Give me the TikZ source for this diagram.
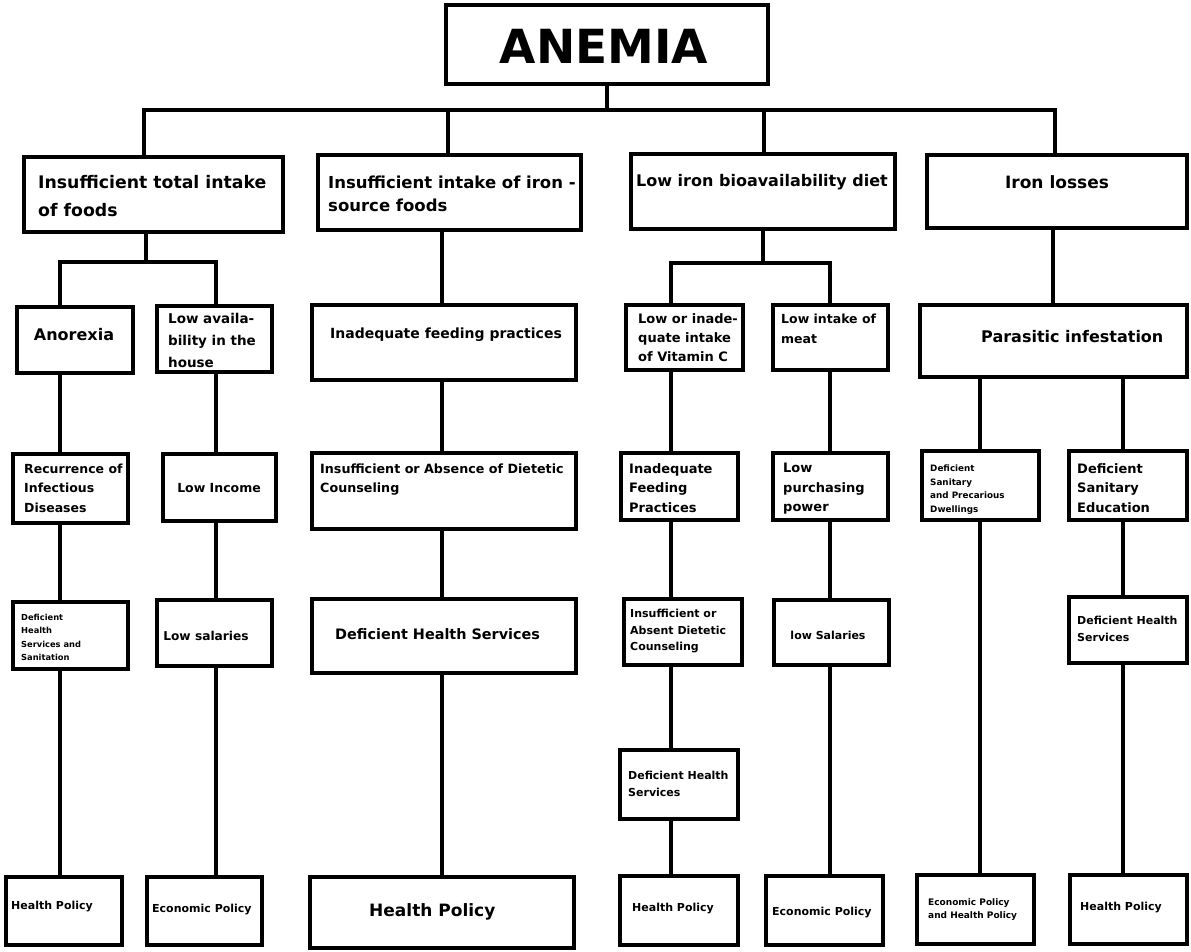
\documentclass[tikz,border=0pt]{standalone}
\usepackage{fontspec}
\setmainfont{DejaVu Sans}
\usetikzlibrary{fit}
\newcommand\fs[2]{\fontsize{#1}{#2}\selectfont\bfseries}
\tikzset{
 box/.style={draw, line width=4.5pt, inner sep=0pt},
 t/.style={inner sep=0pt, align=left, text=black},
 ln/.style={line width=4.5pt},
}
\newcommand\bx[5]{\node[box, fit={(#2,#3) (#4,#5)}] (#1) {};}
\begin{document}
\begin{tikzpicture}[x=1pt,y=-1pt]
\useasboundingbox (0,0) rectangle (1191,951);
% ---- boxes
\bx{A}{446}{5}{768}{84}
\bx{L1a}{24}{157}{283}{232}
\bx{L1b}{318}{155}{581}{230}
\bx{L1c}{631}{154}{895}{229}
\bx{L1d}{927}{155}{1187}{228}
\bx{an}{17}{307}{133}{373}
\bx{la}{157}{306}{272}{372}
\bx{ifp}{312}{305}{576}{380}
\bx{vc}{626}{305}{743}{370}
\bx{mt}{773}{305}{888}{370}
\bx{pi}{920}{305}{1187}{377}
\bx{rc}{13}{454}{128}{523}
\bx{li}{163}{454}{276}{521}
\bx{ia}{312}{453}{576}{529}
\bx{if2}{621}{453}{738}{520}
\bx{pp}{773}{453}{888}{520}
\bx{sd}{922}{451}{1039}{520}
\bx{se}{1069}{451}{1187}{520}
\bx{hs}{13}{602}{128}{669}
\bx{ls}{157}{600}{272}{666}
\bx{dhs}{312}{599}{576}{673}
\bx{iad}{624}{599}{742}{665}
\bx{lsal}{774}{600}{889}{665}
\bx{dhs2}{1069}{597}{1187}{663}
\bx{dhs3}{620}{750}{738}{819}
\bx{hp1}{6}{877}{122}{945}
\bx{ep1}{147}{877}{262}{945}
\bx{hp2}{310}{877}{574}{948}
\bx{hp3}{620}{876}{738}{945}
\bx{ep2}{766}{876}{883}{945}
\bx{ep3}{917}{875}{1034}{944}
\bx{hp4}{1070}{875}{1187}{944}
% ---- texts
\node[t, font=\fs{47}{55}] (A-t) at (604,46) {ANEMIA};
\node[t, font=\fs{17.3}{28}, anchor=north west] (L1a-t) at (38,175.6) {Insufficient total intake\\of foods};
\node[t, font=\fs{16.5}{23}, anchor=north west] (L1b-t) at (328,175.9) {Insufficient intake of iron -\\source foods};
\node[t, font=\fs{16}{23}, anchor=west] (L1c-t) at (636,182) {Low iron bioavailability diet};
\node[t, font=\fs{17}{23}] (L1d-t) at (1057,182) {Iron losses};
\node[t, font=\fs{16}{23}] (an-t) at (74,335) {Anorexia};
\node[t, font=\fs{13.5}{22}, anchor=north west] (la-t) at (168,313) {Low availa-\\bility in the\\house};
\node[t, font=\fs{14}{20}] (ifp-t) at (446,335) {Inadequate feeding practices};
\node[t, font=\fs{13}{19}, anchor=north west] (vc-t) at (638,313.2) {Low or inade-\\quate intake\\of Vitamin C};
\node[t, font=\fs{12.5}{20}, anchor=north west] (mt-t) at (781,313.4) {Low intake of\\meat};
\node[t, font=\fs{16}{20}, anchor=west] (pi-t) at (981,337) {Parasitic infestation};
\node[t, font=\fs{12.5}{19.5}, anchor=north west] (rc-t) at (24,463.4) {Recurrence of\\Infectious\\Diseases};
\node[t, font=\fs{12.5}{19}] (li-t) at (219,488) {Low Income};
\node[t, font=\fs{12.7}{19}, anchor=north west] (ia-t) at (320,463.3) {Insufficient or Absence of Dietetic\\Counseling};
\node[t, font=\fs{13}{19.5}, anchor=north west] (if2-t) at (629,463.2) {Inadequate\\Feeding\\Practices};
\node[t, font=\fs{13}{19.5}, anchor=north west] (pp-t) at (783,463.2) {Low\\purchasing\\power};
\node[t, font=\fs{8.8}{13.7}, anchor=north west] (sd-t) at (930,464.7) {Deficient\\Sanitary\\and Precarious\\Dwellings};
\node[t, font=\fs{13}{19.5}, anchor=north west] (se-t) at (1077,463.2) {Deficient\\Sanitary\\Education};
\node[t, font=\fs{8.3}{13.3}, anchor=north west] (hs-t) at (21,614) {Deficient\\Health\\Services and\\Sanitation};
\node[t, font=\fs{12.2}{19}] (ls-t) at (206,636) {Low salaries};
\node[t, font=\fs{14.4}{20}, anchor=west] (dhs-t) at (335,634) {Deficient Health Services};
\node[t, font=\fs{11}{16.5}, anchor=north west] (iad-t) at (630,609) {Insufficient or\\Absent Dietetic\\Counseling};
\node[t, font=\fs{11}{16}] (lsal-t) at (828,635) {low Salaries};
\node[t, font=\fs{11}{17}, anchor=north west] (dhs2-t) at (1077,616) {Deficient Health\\Services};
\node[t, font=\fs{11}{17}, anchor=north west] (dhs3-t) at (628,771) {Deficient Health\\Services};
\node[t, font=\fs{11}{16}, anchor=west] (hp1-t) at (11,906) {Health Policy};
\node[t, font=\fs{11}{16}, anchor=west] (ep1-t) at (152,909) {Economic Policy};
\node[t, font=\fs{17}{22}, anchor=west] (hp2-t) at (369,912) {Health Policy};
\node[t, font=\fs{11}{16}, anchor=west] (hp3-t) at (632,908) {Health Policy};
\node[t, font=\fs{11}{16}, anchor=west] (ep2-t) at (772,912) {Economic Policy};
\node[t, font=\fs{9}{13}, anchor=north west] (ep3-t) at (928,898.7) {Economic Policy\\and Health Policy};
\node[t, font=\fs{11}{16}, anchor=west] (hp4-t) at (1080,907) {Health Policy};
% ---- connector coordinates
\coordinate (bus) at (607,110);
\coordinate (d1) at (144,0);
\coordinate (d2) at (448,0);
\coordinate (d3) at (764,0);
\coordinate (d4) at (1055,0);
\coordinate (sb1) at (146,262);
\coordinate (sb3) at (763,263);
\coordinate (s4) at (1053,0);
\coordinate (c1) at (60,0);
\coordinate (c2) at (216,0);
\coordinate (c3) at (442,0);
\coordinate (c4) at (671,0);
\coordinate (c5) at (830,0);
\coordinate (c6) at (980,0);
\coordinate (c7) at (1123,0);
% ---- connectors
\draw[ln] (A.south -| bus) -- (bus) -| (L1a.north -| d1);
\draw[ln] (bus) -| (L1b.north -| d2);
\draw[ln] (bus) -| (L1c.north -| d3);
\draw[ln] (bus) -| (L1d.north -| d4);
\draw[ln] (L1a.south -| sb1) -- (sb1) -| (an.north -| c1);
\draw[ln] (sb1) -| (la.north -| c2);
\draw[ln] (L1b.south -| c3) -- (ifp.north -| c3);
\draw[ln] (L1c.south -| sb3) -- (sb3) -| (vc.north -| c4);
\draw[ln] (sb3) -| (mt.north -| c5);
\draw[ln] (L1d.south -| s4) -- (pi.north -| s4);
% column 1
\draw[ln] (an.south -| c1) -- (rc.north -| c1);
\draw[ln] (rc.south -| c1) -- (hs.north -| c1);
\draw[ln] (hs.south -| c1) -- (hp1.north -| c1);
% column 2
\draw[ln] (la.south -| c2) -- (li.north -| c2);
\draw[ln] (li.south -| c2) -- (ls.north -| c2);
\draw[ln] (ls.south -| c2) -- (ep1.north -| c2);
% column 3
\draw[ln] (ifp.south -| c3) -- (ia.north -| c3);
\draw[ln] (ia.south -| c3) -- (dhs.north -| c3);
\draw[ln] (dhs.south -| c3) -- (hp2.north -| c3);
% column 4
\draw[ln] (vc.south -| c4) -- (if2.north -| c4);
\draw[ln] (if2.south -| c4) -- (iad.north -| c4);
\draw[ln] (iad.south -| c4) -- (dhs3.north -| c4);
\draw[ln] (dhs3.south -| c4) -- (hp3.north -| c4);
% column 5
\draw[ln] (mt.south -| c5) -- (pp.north -| c5);
\draw[ln] (pp.south -| c5) -- (lsal.north -| c5);
\draw[ln] (lsal.south -| c5) -- (ep2.north -| c5);
% column 6
\draw[ln] (pi.south -| c6) -- (sd.north -| c6);
\draw[ln] (sd.south -| c6) -- (ep3.north -| c6);
% column 7
\draw[ln] (pi.south -| c7) -- (se.north -| c7);
\draw[ln] (se.south -| c7) -- (dhs2.north -| c7);
\draw[ln] (dhs2.south -| c7) -- (hp4.north -| c7);
\end{tikzpicture}
\end{document}
